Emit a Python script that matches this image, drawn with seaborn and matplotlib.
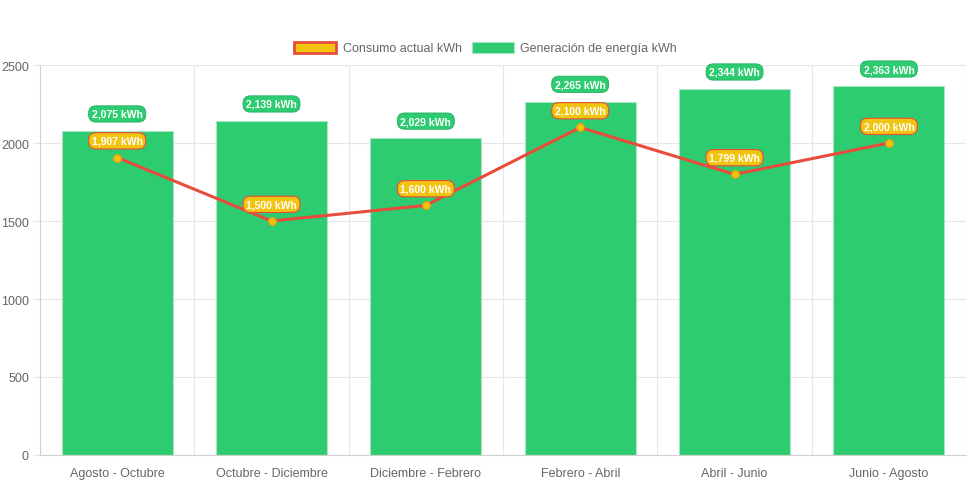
import pandas as pd
import matplotlib.pyplot as plt
import seaborn as sns
from matplotlib.patches import Patch

# Data
periodos = ["Agosto - Octubre", "Octubre - Diciembre", "Diciembre - Febrero",
            "Febrero - Abril", "Abril - Junio", "Junio - Agosto"]
generacion = [2075, 2139, 2029, 2265, 2344, 2363]
consumo = [1907, 1500, 1600, 2100, 1799, 2000]

df = pd.DataFrame({"Periodo": periodos, "Generacion": generacion, "Consumo": consumo})

verde = "#2ecc71"
rojo = "#e74c3c"
amarillo = "#f1c40f"

sns.set_style("white")
plt.rcParams["font.family"] = ["Liberation Sans", "DejaVu Sans"]

fig = plt.figure(figsize=(9.71, 4.85), dpi=100)
ax = fig.add_axes([0.0412, 0.0598, 0.9537, 0.8041])

sns.barplot(data=df, x="Periodo", y="Generacion", color=verde, width=0.72,
            edgecolor="#a8e6c0", linewidth=0.8, saturation=1, ax=ax, zorder=2)
sns.lineplot(data=df, x="Periodo", y="Consumo", color=rojo, linewidth=2.2,
             marker="o", markersize=5.5, markerfacecolor=amarillo,
             markeredgecolor="#f39c12", markeredgewidth=0.8, ax=ax, zorder=3,
             sort=False)

# Value labels
for i, v in enumerate(generacion):
    ax.annotate(f"{v:,} kWh", (i, v), xytext=(0, 12.5), textcoords="offset points",
                ha="center", va="center", color="white", fontsize=7.5, fontweight="bold",
                bbox=dict(boxstyle="round,pad=0.3,rounding_size=0.7", fc=verde, ec="#27ae60", lw=0.6),
                zorder=5)
for i, v in enumerate(consumo):
    ax.annotate(f"{v:,} kWh", (i, v), xytext=(0, 12), textcoords="offset points",
                ha="center", va="center", color="white", fontsize=7.5, fontweight="bold",
                bbox=dict(boxstyle="round,pad=0.3,rounding_size=0.7", fc=amarillo, ec=rojo, lw=0.8),
                zorder=5)

ax.set_xlim(-0.5, len(periodos) - 0.5)
ax.set_ylim(0, 2500)
ax.set_yticks([0, 500, 1000, 1500, 2000, 2500])
ax.set_xlabel("")
ax.set_ylabel("")

# Grid: horizontal at y ticks, vertical at category boundaries
ax.set_xticks([i - 0.5 for i in range(len(periodos) + 1)], minor=True)
ax.grid(axis="y", which="major", color="#e6e6e6", linewidth=0.8, zorder=0)
ax.grid(axis="x", which="minor", color="#e6e6e6", linewidth=0.8, zorder=0)
ax.set_axisbelow(True)
ax.tick_params(axis="x", which="major", length=0, pad=9, labelsize=9, labelcolor="#666666")
ax.tick_params(axis="x", which="minor", length=6, color="#e6e6e6", width=0.8)
ax.tick_params(axis="y", length=5, color="#e6e6e6", width=0.8, pad=3, labelsize=9,
               labelcolor="#666666", left=True)
for s in ax.spines.values():
    s.set_visible(False)
ax.spines["left"].set_visible(True)
ax.spines["left"].set_color("#d0d0d0")
ax.spines["bottom"].set_visible(True)
ax.spines["bottom"].set_color("#d0d0d0")
ax.spines["left"].set_linewidth(0.8)
ax.spines["bottom"].set_linewidth(0.8)

handles = [Patch(facecolor=amarillo, edgecolor=rojo, linewidth=2, label="Consumo actual kWh"),
           Patch(facecolor=verde, edgecolor="#a8e6c0", linewidth=0.8, label="Generación de energía kWh")]
leg = fig.legend(handles=handles, loc="center", bbox_to_anchor=(0.5, 0.899), ncol=2,
                 frameon=False, fontsize=9, handlelength=3.4, handleheight=1.0,
                 columnspacing=0.8, handletextpad=0.5)
for t in leg.get_texts():
    t.set_color("#666666")

fig.savefig("out.png", dpi=100)
